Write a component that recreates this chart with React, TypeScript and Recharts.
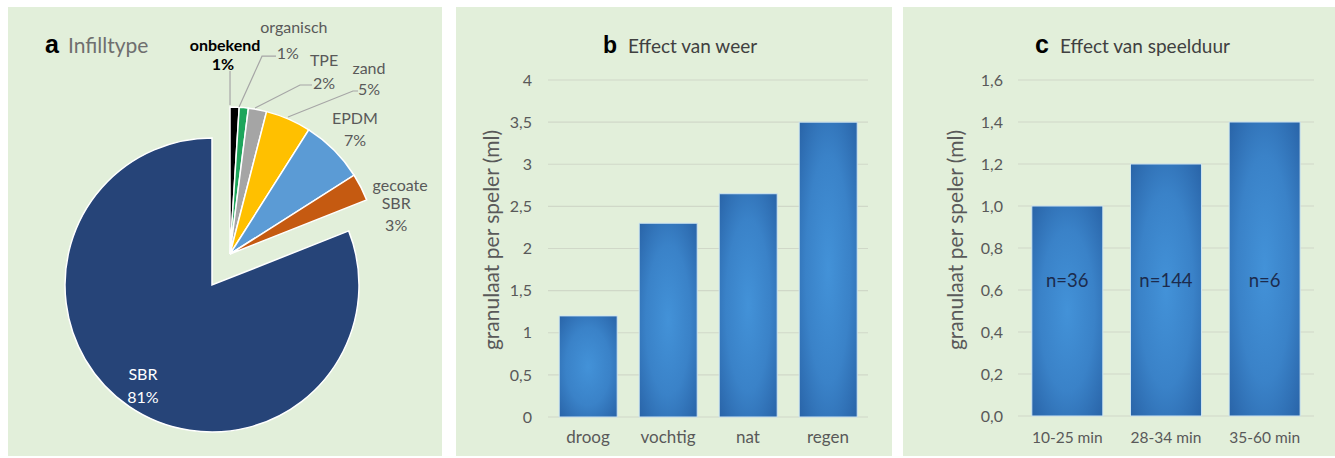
import React from 'react';
import { PieChart, Pie, Cell, BarChart, Bar, XAxis, YAxis, CartesianGrid, LabelList } from 'recharts';

// ---------- data ----------
const infillTypes = ['onbekend', 'organisch', 'TPE', 'zand', 'EPDM', 'gecoate SBR', 'SBR'];
const infillShares = [1, 1, 2, 5, 7, 3, 81];
const infillColors = ['#000000', '#1ea55b', '#a5a5a5', '#ffc000', '#5b9bd5', '#c55a11', '#264478'];
const explodedTypes = ['onbekend', 'organisch', 'TPE', 'zand', 'EPDM', 'gecoate SBR'];

const weatherCats = ['droog', 'vochtig', 'nat', 'regen'];
const weatherValues = [1.2, 2.3, 2.65, 3.5];
const weatherTicks = [0, 0.5, 1, 1.5, 2, 2.5, 3, 3.5, 4];

const durationCats = ['10-25 min', '28-34 min', '35-60 min'];
const durationValues = [1.0, 1.2, 1.4];
const durationN = ['n=36', 'n=144', 'n=6'];
const durationTicks = [0, 0.2, 0.4, 0.6, 0.8, 1.0, 1.2, 1.4, 1.6];
const nLabelLevel = 0.65;

const yAxisTitle = 'granulaat per speler (ml)';

// ---------- tables built from the arrays ----------
const pieData = infillTypes.map((name, i) => ({ name, value: infillShares[i] }));
const weatherData = weatherCats.map((cat, i) => ({ cat, value: weatherValues[i] }));
const durationData = durationCats.map((cat, i) => ({ cat, value: durationValues[i], n: durationN[i] }));

// ---------- styles / layout ----------
const PANEL_BG = '#e2efda';
const GRID = '#d0d8c8';
const TEXT = '#595959';
const FONT = 'Lato, "Open Sans", sans-serif';
const RAD = Math.PI / 180;

// label offsets relative to each slice's outer point (px)
const pieLabelLayout: Record<string, { text: number[][]; leader?: number[][]; bold?: boolean; color?: string }> = {
  onbekend: { text: [[-9.6, -63], [-11.6, -44]], leader: [[-4.6, -2], [-4.6, -36]], bold: true, color: '#000' },
  organisch: { text: [[50, -81], [44, -55.5]], leader: [[-4.8, -0.7], [18.2, -51.5], [32.2, -51.5]] },
  TPE: { text: [[66.5, -50], [66.5, -27.5]], leader: [[-2.5, -1.6], [42.5, -24.6], [54.5, -24.6]] },
  zand: { text: [[80.6, -51.5], [80.6, -31]], leader: [[-0.4, -2.1], [64.6, -28.1], [69.6, -28.1]] },
  EPDM: { text: [[21, -32.5], [21, -11]] },
  'gecoate SBR': { text: [[39.2, -3], [35.2, 15.5], [35.2, 37]] },
  SBR: { text: [[13.6, -33], [13.6, -10]], color: '#ffffff' },
};

function renderPieLabel(props: any, exploded: boolean) {
  const { cx, cy, midAngle, outerRadius } = props;
  const name: string = (props.payload && props.payload.name) || props.name;
  const value = (props.payload && props.payload.value) ?? props.value;
  const isExploded = explodedTypes.includes(name);
  if (isExploded !== exploded) return null;
  const lay = pieLabelLayout[name];
  if (!lay) return null;
  const ox = cx + outerRadius * Math.cos(-midAngle * RAD);
  const oy = cy + outerRadius * Math.sin(-midAngle * RAD);
  const lines = [...name.split(' '), `${value}%`];
  return (
    <g key={`lbl-${name}`}>
      {lay.leader && (
        <polyline
          points={lay.leader.map(([dx, dy]) => `${ox + dx},${oy + dy}`).join(' ')}
          fill="none"
          stroke="#a6a6a6"
          strokeWidth={1.2}
        />
      )}
      {lines.map((t, i) => (
        <text
          key={i}
          x={ox + lay.text[i][0]}
          y={oy + lay.text[i][1]}
          textAnchor="middle"
          dominantBaseline="central"
          fontFamily={FONT}
          fontSize={16}
          fontWeight={lay.bold ? 700 : 400}
          fill={lay.color || TEXT}
        >
          {t}
        </text>
      ))}
    </g>
  );
}

const fmtComma = (digits: number | null) => (v: number) =>
  (digits === null ? String(v) : v.toFixed(digits)).replace('.', ',');

function YTitle(x: number, y: number) {
  return () => (
    <text
      x={x}
      y={y}
      transform={`rotate(-90, ${x}, ${y})`}
      textAnchor="middle"
      dominantBaseline="central"
      fontFamily={FONT}
      fontSize={21}
      fill={TEXT}
    >
      {yAxisTitle}
    </text>
  );
}

function Grad({ id }: { id: string }) {
  return (
    <defs>
      <radialGradient id={id} cx="0.5" cy="0.5" r="0.7">
        <stop offset="0%" stopColor="#4392d8" />
        <stop offset="55%" stopColor="#3a82c8" />
        <stop offset="100%" stopColor="#2964a8" />
      </radialGradient>
    </defs>
  );
}

export default function App() {
  return (
    <div style={{ position: 'absolute', left: 0, top: 0, width: 1335, height: 458, background: '#ffffff', overflow: 'hidden', fontFamily: FONT }}>
      {/* panel a */}
      <div style={{ position: 'absolute', left: 8, top: 7, width: 434, height: 449, background: PANEL_BG }}>
        <PieChart width={434} height={449} margin={{ top: 0, right: 0, bottom: 0, left: 0 }}>
          <Pie
            data={pieData}
            dataKey="value"
            nameKey="name"
            cx={204}
            cy={278}
            outerRadius={147}
            startAngle={90}
            endAngle={-270}
            isAnimationActive={false}
            labelLine={false}
            label={(p: any) => renderPieLabel(p, false)}
          >
            {pieData.map((d, i) => (
              <Cell
                key={d.name}
                fill={explodedTypes.includes(d.name) ? 'transparent' : infillColors[i]}
                stroke={explodedTypes.includes(d.name) ? 'none' : '#ffffff'}
                strokeWidth={1.5}
              />
            ))}
          </Pie>
          <Pie
            data={pieData}
            dataKey="value"
            nameKey="name"
            cx={222}
            cy={247}
            outerRadius={147}
            startAngle={90}
            endAngle={-270}
            isAnimationActive={false}
            labelLine={false}
            label={(p: any) => renderPieLabel(p, true)}
          >
            {pieData.map((d, i) => (
              <Cell
                key={d.name}
                fill={explodedTypes.includes(d.name) ? infillColors[i] : 'transparent'}
                stroke={explodedTypes.includes(d.name) ? '#ffffff' : 'none'}
                strokeWidth={1.5}
              />
            ))}
          </Pie>
        </PieChart>
      </div>

      {/* panel b */}
      <div style={{ position: 'absolute', left: 456, top: 7, width: 436, height: 449, background: PANEL_BG }}>
        <BarChart width={436} height={449} data={weatherData} margin={{ top: 73, right: 24, bottom: 0, left: 0 }} barCategoryGap="14%">
          <Grad id="barGradB" />
          <CartesianGrid vertical={false} stroke={GRID} strokeWidth={1.2} />
          <XAxis
            dataKey="cat"
            axisLine={false}
            tickLine={false}
            tickSize={0}
            tickMargin={14}
            height={39}
            interval={0}
            tick={{ fill: TEXT, fontSize: 17, fontFamily: FONT }}
          />
          <YAxis
            width={92}
            domain={[0, 4]}
            ticks={weatherTicks}
            interval={0}
            axisLine={false}
            tickLine={false}
            tickSize={0}
            tickMargin={16}
            tickFormatter={fmtComma(null)}
            tick={{ fill: TEXT, fontSize: 16, fontFamily: FONT }}
            label={{ content: YTitle(34, 233) }}
          />
          <Bar dataKey="value" fill="url(#barGradB)" stroke="#cfe6f2" strokeWidth={1} isAnimationActive={false} />
        </BarChart>
      </div>

      {/* panel c */}
      <div style={{ position: 'absolute', left: 903, top: 7, width: 432, height: 449, background: PANEL_BG }}>
        <BarChart width={432} height={449} data={durationData} margin={{ top: 73, right: 21, bottom: 0, left: 0 }} barCategoryGap="14%">
          <Grad id="barGradC" />
          <CartesianGrid vertical={false} stroke={GRID} strokeWidth={1.2} />
          <XAxis
            dataKey="cat"
            axisLine={false}
            tickLine={false}
            tickSize={0}
            tickMargin={16}
            height={40}
            interval={0}
            tick={{ fill: TEXT, fontSize: 15.5, fontFamily: FONT }}
          />
          <YAxis
            width={115}
            domain={[0, 1.6]}
            ticks={durationTicks}
            interval={0}
            axisLine={false}
            tickLine={false}
            tickSize={0}
            tickMargin={15}
            tickFormatter={fmtComma(1)}
            tick={{ fill: TEXT, fontSize: 16, fontFamily: FONT }}
            label={{ content: YTitle(51, 233) }}
          />
          <Bar dataKey="value" fill="url(#barGradC)" stroke="#cfe6f2" strokeWidth={1} isAnimationActive={false}>
            <LabelList
              dataKey="n"
              content={(p: any) => {
                const { x, y, width, height, value, index } = p;
                const v = durationValues[index] ?? 1;
                const ty = y + height - (nLabelLevel / v) * height;
                return (
                  <text
                    x={x + width / 2}
                    y={ty}
                    textAnchor="middle"
                    dominantBaseline="central"
                    fontFamily={FONT}
                    fontSize={18.5}
                    fill="#1c2b4d"
                  >
                    {value}
                  </text>
                );
              }}
            />
          </Bar>
        </BarChart>
      </div>

      {/* titles */}
      <svg width={1335} height={458} style={{ position: 'absolute', left: 0, top: 0, pointerEvents: 'none' }}>
        <text x={45} y={53} fontFamily='"Liberation Sans", Arial, sans-serif' fontWeight={700} fontSize={25} fill="#000">a</text>
        <text x={68} y={53} fontFamily={FONT} fontSize={21} fill="#6f6f6f">Infilltype</text>
        <text x={603} y={53} fontFamily='"Liberation Sans", Arial, sans-serif' fontWeight={700} fontSize={23} fill="#000">b</text>
        <text x={628} y={53} fontFamily={FONT} fontSize={19} fill="#404040">Effect van weer</text>
        <text x={1035} y={53} fontFamily='"Liberation Sans", Arial, sans-serif' fontWeight={700} fontSize={25} fill="#000">c</text>
        <text x={1060} y={53} fontFamily={FONT} fontSize={19} fill="#404040">Effect van speelduur</text>
      </svg>
    </div>
  );
}
